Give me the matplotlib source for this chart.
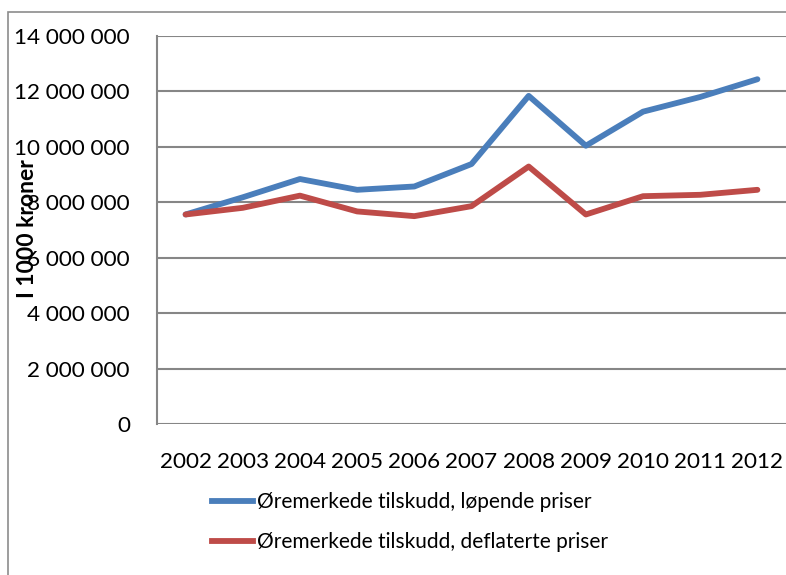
import matplotlib.pyplot as plt
from matplotlib.patches import Rectangle
from matplotlib.lines import Line2D

# Data
years = ["2002", "2003", "2004", "2005", "2006", "2007", "2008", "2009", "2010", "2011", "2012"]
lopende = [7560000, 8180000, 8840000, 8450000, 8570000, 9380000, 11840000, 10040000, 11270000, 11800000, 12440000]
deflaterte = [7560000, 7800000, 8240000, 7670000, 7500000, 7860000, 9290000, 7560000, 8220000, 8270000, 8450000]
labels = ["Øremerkede tilskudd, løpende priser", "Øremerkede tilskudd, deflaterte priser"]
colors = ["#4a7ebb", "#be4b48"]

plt.rcParams['font.family'] = ['Lato', 'DejaVu Sans']

W, H = 786, 575
fig = plt.figure(figsize=(W / 100, H / 100), dpi=100)

# outer chart border
fig.patches.append(Rectangle((8 / W, -0.1), 1.2, 1 - 12 / H + 0.1, transform=fig.transFigure,
                             fill=False, edgecolor="#8c8c8c", linewidth=1.2))

ax = fig.add_axes([157 / W, 1 - 424 / H, (786 - 157) / W, (424 - 36) / H])
x = list(range(len(years)))
ax.plot(x, lopende, color=colors[0], linewidth=4.2, solid_capstyle="round")
ax.plot(x, deflaterte, color=colors[1], linewidth=4.2, solid_capstyle="round")

ax.set_xlim(-0.5, 10.5)
ax.set_ylim(0, 14000000)
yt = list(range(0, 14000001, 2000000))
ax.set_yticks(yt)
ax.set_yticklabels([f"{v:,}".replace(",", " ") for v in yt], fontsize=16.2)
ax.set_xticks(x)
ax.set_xticklabels(years, fontsize=16.2)
ax.tick_params(axis="both", length=0)
ax.tick_params(axis="y", pad=19.5)
ax.tick_params(axis="x", pad=20)
ax.grid(axis="y", color="#868686", linewidth=1.5)
ax.set_axisbelow(True)
for s in ["top", "right", "bottom"]:
    ax.spines[s].set_visible(False)
ax.spines["left"].set_color("#868686")
ax.spines["left"].set_linewidth(1.5)

fig.text(28 / W, 1 - 229 / H, "I 1000 kroner", rotation=90, fontsize=16.5, fontweight="bold",
         ha="center", va="center")

handles = [Line2D([], [], color=c, linewidth=4.2) for c in colors]
fig.legend(handles, labels, loc="center left", bbox_to_anchor=(193 / W, 1 - 522 / H),
           frameon=False, fontsize=15, handlelength=2.0, handletextpad=0.15, labelspacing=0.95)

fig.savefig("out.png", dpi=100)
